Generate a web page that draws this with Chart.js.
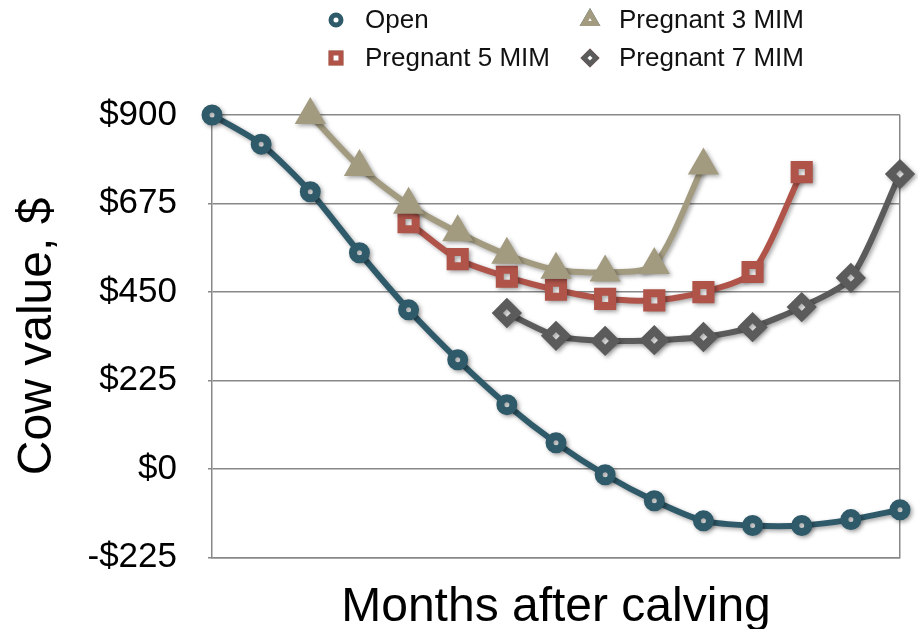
<!DOCTYPE html>
<html>
<head>
<meta charset="utf-8">
<script src="https://cdn.jsdelivr.net/npm/chart.js@4"></script>
<style>
  body { margin: 0; background: #fff; }
  #wrap { width: 918px; height: 629px; }
</style>
</head>
<body>
<div id="wrap"><canvas id="chart" width="918" height="629"></canvas></div>
<script>
const months = [1, 2, 3, 4, 5, 6, 7, 8, 9, 10, 11, 12, 13, 14, 15];
const open = [900, 826, 705, 550, 405, 278, 164, 67, -14, -80, -131, -143, -143, -128, -103];
const preg3 = [null, null, 900, 768, 672, 602, 545, 507, 500, 519, 772, null, null, null, null];
const preg5 = [null, null, null, null, 628, 534, 489, 456, 433, 429, 450, 501, 755, null, null];
const preg7 = [null, null, null, null, null, null, 397, 339, 326, 328, 336, 361, 412, 486, 750];
const yTicks = [-225, 0, 225, 450, 675, 900];

const FONT = "'Liberation Sans', Arial, Helvetica, sans-serif";

// legend drawn in two columns like the original
const legendPlugin = {
  id: "gridLegend",
  afterDraw(chart) {
    const ctx = chart.ctx;
    const cols = [336, 590];
    const rows = [20, 58];
    ctx.save();
    chart.data.datasets.forEach((ds, k) => {
      const x = cols[k % 2], y = rows[Math.floor(k / 2)];
      Chart.helpers.drawPoint(ctx, {
        pointStyle: ds.pointStyle,
        radius: ds.legendRadius,
        borderWidth: ds.legendBorder,
        rotation: 0
      }, x, y);
      ctx.fillStyle = "#fff";
      ctx.strokeStyle = ds.borderColor;
      ctx.lineWidth = ds.legendBorder;
      ctx.fill();
      ctx.stroke();
      ctx.fillStyle = "#111";
      ctx.font = "26px " + FONT;
      ctx.textBaseline = "middle";
      ctx.fillText(ds.label, x + 29, y + 1);
    });
    ctx.restore();
  }
};

// soft drop shadow under the lines
const shadowPlugin = {
  id: "shadow",
  beforeDatasetDraw(chart) {
    const ctx = chart.ctx;
    ctx.save();
    ctx.shadowColor = "rgba(0,0,0,0.35)";
    ctx.shadowBlur = 4;
    ctx.shadowOffsetX = 2;
    ctx.shadowOffsetY = 2;
  },
  afterDatasetDraw(chart) {
    chart.ctx.restore();
  }
};

function series(label, data, color, style, radius, bw, lr, lb) {
  return {
    label, data,
    borderColor: color,
    backgroundColor: "#fff",
    pointBackgroundColor: "#fff",
    pointBorderColor: color,
    pointStyle: style,
    pointRadius: radius,
    pointHoverRadius: radius,
    pointBorderWidth: bw,
    borderWidth: 6,
    tension: 0.25,
    spanGaps: false,
    clip: false,
    legendRadius: lr,
    legendBorder: lb
  };
}

new Chart(document.getElementById("chart"), {
  type: "line",
  data: {
    labels: months,
    datasets: [
      series("Open", open, "#2f5a6a", "circle", 6.5, 8, 5, 5),
      series("Pregnant 3 MIM", preg3, "#a39b80", "triangle", 9, 9, 7, 5),
      series("Pregnant 5 MIM", preg5, "#b0544a", "rect", 10, 8, 7, 5),
      series("Pregnant 7 MIM", preg7, "#5b5b5b", "rectRot", 9.5, 8, 6, 5)
    ]
  },
  options: {
    responsive: false,
    animation: false,
    layout: { padding: { top: 115, right: 10, left: 9, bottom: 0 } },
    plugins: {
      legend: { display: false },
      tooltip: { enabled: false }
    },
    scales: {
      x: {
        ticks: { display: false },
        offset: false,
        grid: {
          color: c => (c.index === months.length - 1 ? "#888" : "transparent"),
          lineWidth: 1.5,
          drawTicks: false
        },
        border: { display: true, color: "#888", width: 1.5 },
        title: {
          display: true,
          text: "Months after calving",
          color: "#000",
          font: { family: FONT, size: 48, lineHeight: 0.9 },
          padding: { top: 28, bottom: 0 }
        }
      },
      y: {
        min: yTicks[0],
        max: yTicks[yTicks.length - 1],
        afterBuildTicks: axis => { axis.ticks = yTicks.map(v => ({ value: v })); },
        afterFit: axis => { axis.width = 203; },
        ticks: {
          color: "#000",
          font: { family: FONT, size: 35 },
          padding: 31,
          callback: v => (v < 0 ? "-$" + Math.abs(v) : "$" + v)
        },
        grid: { color: "#888", lineWidth: 1.5, tickLength: 4 },
        border: { display: true, color: "#888", width: 1.5 },
        title: {
          display: true,
          text: "Cow value, $",
          color: "#000",
          font: { family: FONT, size: 48 },
          padding: { top: 0, bottom: 0 }
        }
      }
    }
  },
  plugins: [shadowPlugin, legendPlugin]
});
</script>
</body>
</html>
